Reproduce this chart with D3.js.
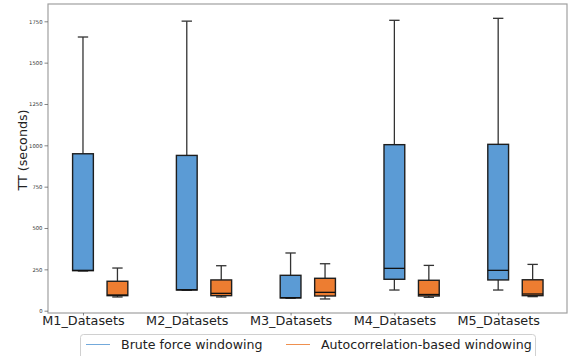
<!DOCTYPE html>
<html><head><meta charset="utf-8">
<script src="https://cdn.jsdelivr.net/npm/d3@7"></script>
<style>body{margin:0;background:#fff}svg{display:block;font-family:"DejaVu Sans",sans-serif}</style>
</head><body>
<svg id="c" width="574" height="356"></svg>
<script>
const categories = ["M1_Datasets","M2_Datasets","M3_Datasets","M4_Datasets","M5_Datasets"];
const seriesNames = ["Brute force windowing","Autocorrelation-based windowing"];
const seriesColors = ["#5b9bd5","#ed7d31"];
// [whiskerLow, q1, median, q3, whiskerHigh]
const bruteForce = [
  [240, 242, 244, 949, 1655],
  [123, 125, 127, 939, 1751],
  [75, 77, 79, 214, 349],
  [125, 190, 256, 1004, 1756],
  [125, 186, 244, 1006, 1768]
];
const autocorr = [
  [83, 91, 95, 178, 258],
  [83, 91, 105, 186, 272],
  [71, 89, 111, 196, 284],
  [81, 89, 98, 184, 274],
  [85, 91, 101, 187, 280]
];
const yTicks = [0, 250, 500, 750, 1000, 1250, 1500, 1750];

const svg = d3.select("#c");
const L = 48, R = 567, T = 4, B = 313;
const x = d3.scaleLinear().domain([-0.337, 4.663]).range([L, R]);
const y = d3.scaleLinear().domain([-13.9, 1854.6]).range([B, T]);
const offsets = [0, 0.332];
const bw = 0.2;

// frame
svg.append("rect").attr("x", L).attr("y", T).attr("width", R - L).attr("height", B - T)
  .attr("fill", "none").attr("stroke", "#a0a0a0").attr("stroke-width", 1.2);

// y axis
const ya = svg.append("g").attr("transform", `translate(${L},0)`)
  .call(d3.axisLeft(y).tickValues(yTicks).tickSize(3.5).tickPadding(2).tickFormat(d3.format("d")));
ya.select(".domain").remove();
ya.selectAll("line").attr("stroke", "#666").attr("stroke-width", 0.8);
ya.selectAll("text").attr("font-size", 5.3).attr("fill", "#333").attr("font-family", "DejaVu Sans");

// x axis
const xa = svg.append("g").attr("transform", `translate(0,${B})`)
  .call(d3.axisBottom(x).tickValues(d3.range(categories.length)).tickSize(2.5).tickPadding(0.8)
    .tickFormat(i => categories[i]));
xa.select(".domain").remove();
xa.selectAll("line").attr("stroke", "#666").attr("stroke-width", 0.8);
xa.selectAll("text").attr("font-size", 12.8).attr("fill", "#222").attr("font-family", "DejaVu Sans");

// y label
svg.append("text").attr("transform", "translate(26.5,150) rotate(-90)")
  .attr("text-anchor", "middle").attr("font-size", 12.7).attr("fill", "#222").text("TT (seconds)");

// boxes
[bruteForce, autocorr].forEach((series, s) => {
  const g = svg.append("g");
  series.forEach((d, i) => {
    const cx = x(i + offsets[s]);
    const hw = (x(bw) - x(0)) / 2;
    const [lo, q1, med, q3, hi] = d;
    const wc = "#333";
    g.append("line").attr("x1", cx).attr("x2", cx).attr("y1", y(q3)).attr("y2", y(hi)).attr("stroke", wc).attr("stroke-width", 1.3);
    g.append("line").attr("x1", cx).attr("x2", cx).attr("y1", y(q1)).attr("y2", y(lo)).attr("stroke", wc).attr("stroke-width", 1.3);
    g.append("line").attr("x1", cx - hw / 2).attr("x2", cx + hw / 2).attr("y1", y(hi)).attr("y2", y(hi)).attr("stroke", wc).attr("stroke-width", 1.3);
    g.append("line").attr("x1", cx - hw / 2).attr("x2", cx + hw / 2).attr("y1", y(lo)).attr("y2", y(lo)).attr("stroke", wc).attr("stroke-width", 1.3);
    g.append("rect").attr("x", cx - hw).attr("y", y(q3)).attr("width", 2 * hw).attr("height", y(q1) - y(q3))
      .attr("fill", seriesColors[s]).attr("stroke", "#1e1e1e").attr("stroke-width", 1.4);
    g.append("line").attr("x1", cx - hw).attr("x2", cx + hw).attr("y1", y(med)).attr("y2", y(med))
      .attr("stroke", "#111").attr("stroke-width", 1.3);
  });
});

// legend
const lg = svg.append("g");
lg.append("rect").attr("x", 80.5).attr("y", 334.5).attr("width", 455).attr("height", 30).attr("rx", 3)
  .attr("fill", "#fff").attr("stroke", "#d0d0d0").attr("stroke-width", 1);
const legX = [86, 286];
seriesNames.forEach((n, s) => {
  lg.append("line").attr("x1", legX[s]).attr("x2", legX[s] + 24).attr("y1", 344.5).attr("y2", 344.5)
    .attr("stroke", seriesColors[s]).attr("stroke-width", 1).attr("opacity", 0.85);
  lg.append("text").attr("x", legX[s] + 35).attr("y", 349).attr("font-size", 12.6).attr("fill", "#222").text(n);
});
</script>
</body></html>
